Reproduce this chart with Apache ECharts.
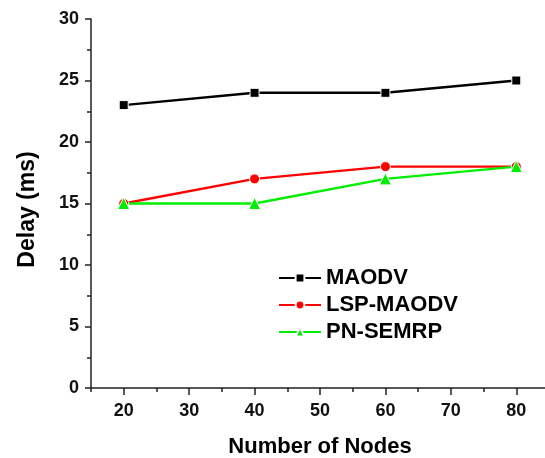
<!DOCTYPE html>
<html>
<head>
<meta charset="utf-8">
<script src="https://cdn.jsdelivr.net/npm/echarts@6/dist/echarts.min.js"></script>
<style>
  html, body { margin: 0; padding: 0; background: #fff; }
  #chart { width: 545px; height: 458px; }
</style>
</head>
<body>
<div id="chart"></div>
<script>
const nodes = [20, 40, 60, 80];
const maodv = [23, 24, 24, 25];
const lspMaodv = [15, 17, 18, 18];
const pnSemrp = [15, 15, 17, 18];
const xMajorTicks = [20, 30, 40, 50, 60, 70, 80];
const xMinorTicks = [15, 25, 35, 45, 55, 65, 75, 85];

const font = 'Arial, "Liberation Sans", sans-serif';
const axisColor = '#222';

const myChart = echarts.init(document.getElementById('chart'));

const pairs = (ys) => nodes.map((x, i) => [x, ys[i]]);

const mkSeries = (name, ys, color, symbol, size) => ({
  name,
  type: 'line',
  data: pairs(ys),
  symbol,
  symbolSize: size,
  lineStyle: {color, width: 2.4},
  itemStyle: {color, borderColor: '#fff', borderWidth: 1},
  z: 3
});

myChart.setOption({
  animation: false,
  grid: {left: 91, top: 19, bottom: 70, right: -4, outerBoundsMode: 'none', containLabel: false},
  legend: {
    orient: 'vertical',
    left: 273,
    top: 262,
    itemWidth: 42,
    itemHeight: 11,
    itemGap: 5,
    textStyle: {fontFamily: font, fontWeight: 'bold', fontSize: 22, color: '#000'},
    data: ['MAODV', 'LSP-MAODV', 'PN-SEMRP']
  },
  xAxis: [{
    type: 'value',
    min: 15,
    max: 85,
    name: 'Number of Nodes',
    nameLocation: 'middle',
    nameGap: 48,
    nameTextStyle: {fontFamily: font, fontWeight: 'bold', fontSize: 22, color: '#000'},
    splitLine: {show: false},
    axisLine: {onZero: false, lineStyle: {color: axisColor, width: 1.5}},
    axisTick: {customValues: xMajorTicks, length: 7, lineStyle: {color: axisColor, width: 1.5}},
    axisLabel: {
      customValues: xMajorTicks,
      margin: 14,
      fontFamily: font, fontWeight: 'bold', fontSize: 18, color: '#111'
    }
  }, {
    type: 'value',
    min: 15,
    max: 85,
    position: 'bottom',
    splitLine: {show: false},
    axisLine: {show: false},
    axisLabel: {show: false},
    axisTick: {customValues: xMinorTicks, length: 4, lineStyle: {color: axisColor, width: 1.5}}
  }],
  yAxis: {
    type: 'value',
    min: 0,
    max: 30,
    interval: 5,
    name: 'Delay (ms)',
    nameLocation: 'middle',
    nameGap: 52,
    nameTextStyle: {fontFamily: font, fontWeight: 'bold', fontSize: 23, color: '#000', padding: [0, 12, 0, 0]},
    splitLine: {show: false},
    axisLine: {show: true, lineStyle: {color: axisColor, width: 1.5}},
    axisTick: {length: 6, lineStyle: {color: axisColor, width: 1.5}},
    minorTick: {show: true, splitNumber: 2, length: 4, lineStyle: {color: axisColor, width: 1.5}},
    axisLabel: {margin: 12, fontFamily: font, fontWeight: 'bold', fontSize: 18, color: '#111'}
  },
  series: [
    mkSeries('MAODV', maodv, '#000000', 'rect', 9),
    mkSeries('LSP-MAODV', lspMaodv, '#ff0000', 'circle', 10),
    mkSeries('PN-SEMRP', pnSemrp, '#00ee00', 'triangle', 12)
  ]
});
</script>
</body>
</html>
